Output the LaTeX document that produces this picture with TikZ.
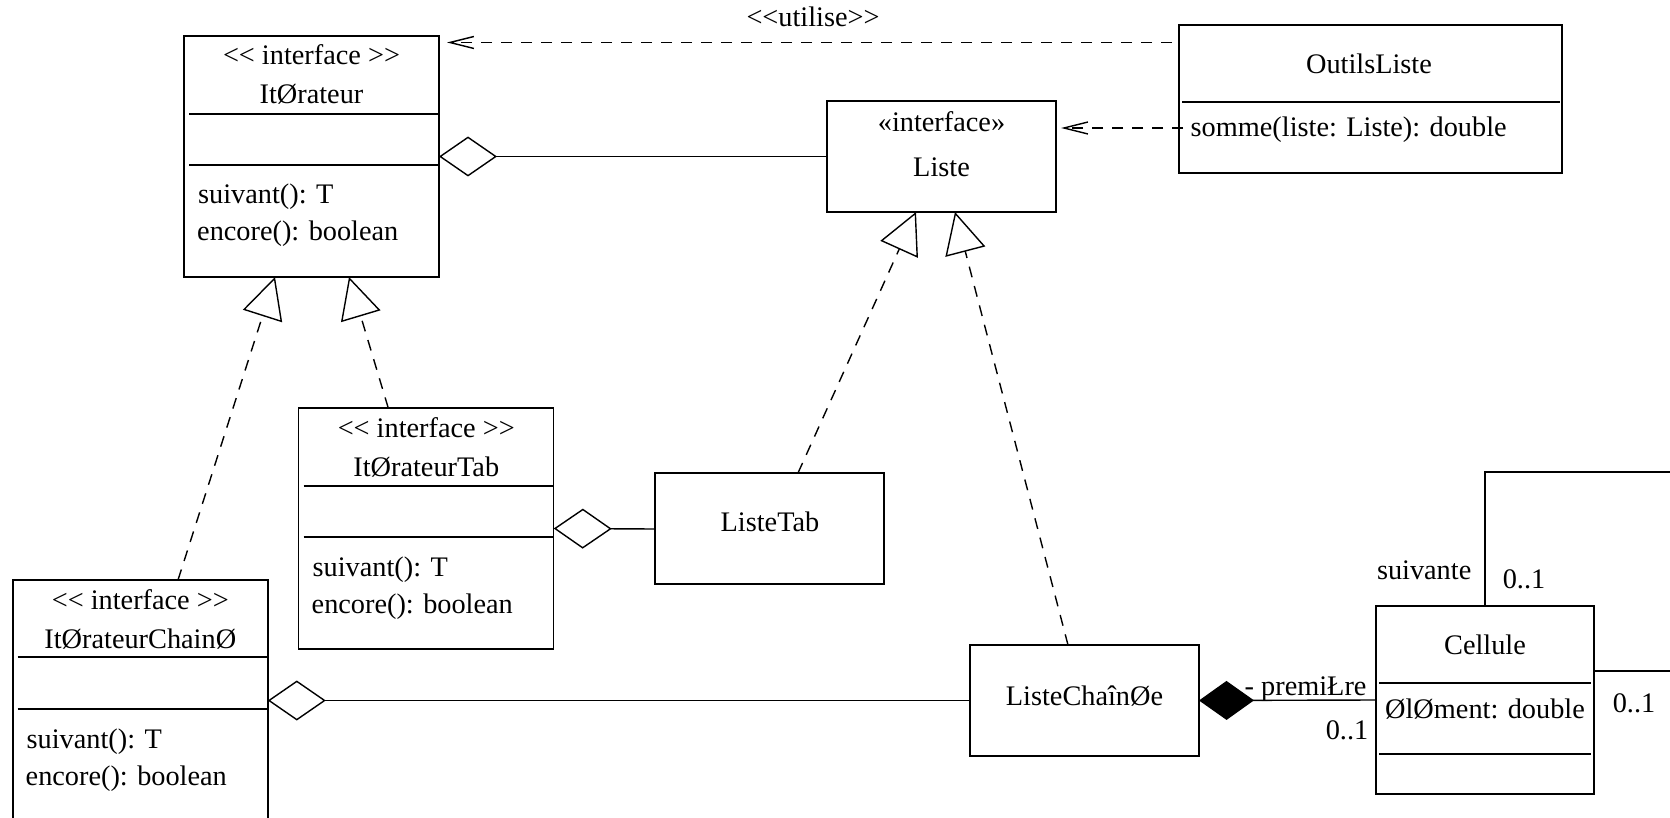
\documentclass[tikz,border=0pt]{standalone}
\usepackage{fontspec}
\setmainfont{Liberation Serif}
\usetikzlibrary{arrows.meta,calc}

% stereotype brackets written as two separate angle signs
\newcommand{\stl}{<{}<}
\newcommand{\str}{>{}>}

\begin{document}
\begin{tikzpicture}[x=1pt,y=-1pt,
  line width=1.4pt,
  every node/.style={font=\fontsize{28.3}{34}\selectfont},
  box/.style={draw, rectangle, inner sep=0pt, outer sep=0pt},
  itbox/.style={box, minimum width=255pt, minimum height=241pt},
  smallbox/.style={box, minimum width=229pt, minimum height=111pt},
  txt/.style={inner sep=0pt, anchor=base},
  ltxt/.style={inner sep=0pt, anchor=base west},
  realize/.style={dashed, dash pattern=on 11pt off 9pt,
    -{Triangle[open, length=41pt, width=41pt]}},
  aggr/.style={{Diamond[open, length=58pt, width=40pt]}-},
  compo/.style={{Diamond[length=55pt, width=39pt]}-},
  dep/.style={dashed, dash pattern=on 11pt off 9pt,
    -{Straight Barb[length=24pt, width=12pt]}},
  sep/.style={line width=1.4pt}
]
\useasboundingbox (0,0) rectangle (1670,818);
\clip (0,0) rectangle (1670,818);

% ---------- class boxes ----------
\node[itbox] (it)  at (311.5,156.5) {};
\node[itbox] (itt) at (426.25,528.5) {};
\node[itbox] (itc) at (140.3,700.5) {};
\node[smallbox] (liste) at (941.5,156.5) {};
\node[smallbox] (listetab) at (769.5,528.5) {};
\node[smallbox] (listech) at (1084.5,700.5) {};
\node[box, minimum width=383pt, minimum height=148pt] (outils) at (1370.5,99) {};
\node[box, minimum width=218pt, minimum height=188pt] (cellule) at (1485,700) {};

% compartment lines
\draw[sep] (189,114) -- (438,114);
\draw[sep] (189,165) -- (438,165);
\draw[sep] (303.5,486) -- (552.5,486);
\draw[sep] (303.5,537) -- (552.5,537);
\draw[sep] (17.6,657) -- (266.5,657);
\draw[sep] (17.6,709) -- (266.5,709);
\draw[sep] (1182,102) -- (1560,102);
\draw[sep] (1379,683) -- (1591,683);
\draw[sep] (1379,754) -- (1591,754);

% ---------- texts ----------
\node[txt] (it1) at (311.5,65) {\stl{} interface \str};
\node[txt] (it2) at (311.5,104) {ItØrateur};
\node[ltxt] (it3) at (197.5,204) {suivant(): T};
\node[ltxt] (it4) at (196.5,241) {encore(): boolean};

\node[txt] (itt1) at (426.25,437) {\stl{} interface \str};
\node[txt] (itt2) at (426.25,476) {ItØrateurTab};
\node[ltxt] (itt3) at (312,576) {suivant(): T};
\node[ltxt] (itt4) at (311,613) {encore(): boolean};

\node[txt] (itc1) at (140.3,609) {\stl{} interface \str};
\node[txt] (itc2) at (140.3,648) {ItØrateurChainØ};
\node[ltxt] (itc3) at (26,748) {suivant(): T};
\node[ltxt] (itc4) at (25,785) {encore(): boolean};

\node[txt] (li1) at (941.5,132) {«interface»};
\node[txt] (li2) at (941.5,177) {Liste};

\node[txt] (ou1) at (1369,74) {OutilsListe};
\node[ltxt] (ou2) at (1190,137) {somme(liste: Liste): double};

\node[txt] (lt1) at (770,531) {ListeTab};
\node[txt] (lc1) at (1084.5,705) {ListeChaînØe};

\node[txt] (ce1) at (1485,654) {Cellule};
\node[txt] (ce2) at (1485,718) {ØlØment: double};

% ---------- connectors ----------
% use dependencies
\draw[dep] ([xshift=-7pt,yshift=56.5pt]outils.west) -- ([xshift=8pt,yshift=114pt]it.east);
\node[txt] (uti) at (813,27) {\stl{}utilise\str};
\draw[dep] ([xshift=4pt,yshift=-29pt]outils.west) -- ([xshift=5pt,yshift=28.5pt]liste.east);

% aggregations
\draw[aggr] (it.east) -- (liste.west);
\draw[aggr] (itt.east) -- ([yshift=-0.5pt]listetab.west);
\draw[aggr] (itc.east) -- (listech.west);

% realizations
\draw[realize] ([xshift=28.5pt]listetab.north) -- ([xshift=-25.5pt]liste.south);
\draw[realize] ([xshift=-16.5pt]listech.north) -- ([xshift=13.5pt]liste.south);
\draw[realize] ([xshift=-38pt]itt.north) -- ([xshift=37.5pt]it.south);
\draw[realize] ([xshift=37.7pt]itc.north) -- ([xshift=-36.5pt]it.south);

% composition ListeChaînée -- Cellule
\draw[compo] (listech.east) -- (cellule.west);
\node[ltxt] (prem) at (1244,695) {- premiŁre};
\node[txt] (m1) at (1347,739) {0..1};

% self association on Cellule
\coordinate (loopNE) at (1700,472);
\coordinate (loopSE) at (1700,671);
\draw (cellule.north) |- (loopNE) -- (loopSE) -- ([yshift=29pt]cellule.east);
\node[inner sep=0pt, anchor=base east] (suiv) at (1472,579) {suivante};
\node[txt] (m2) at (1524,588) {0..1};
\node[txt] (m3) at (1634,712) {0..1};
\end{tikzpicture}
\end{document}
